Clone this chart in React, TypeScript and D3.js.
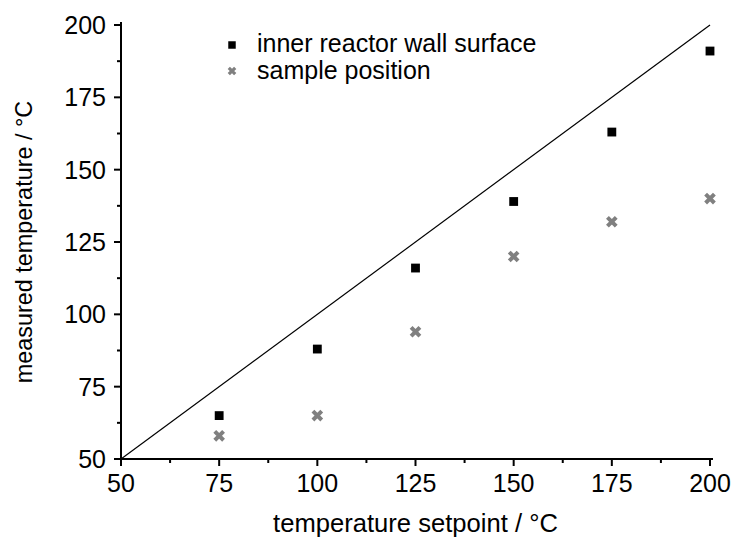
import React from "react";
import * as d3 from "d3";

const setpoints = [75, 100, 125, 150, 175, 200];
const wallTemps = [65, 88, 116, 139, 163, 191];
const sampleTemps = [58, 65, 94, 120, 132, 140];
const xTicks = [50, 75, 100, 125, 150, 175, 200];
const yTicks = [50, 75, 100, 125, 150, 175, 200];
const legendLabels = ["inner reactor wall surface", "sample position"];
const xTitle = "temperature setpoint / °C";
const yTitle = "measured temperature / °C";

const W = 733;
const H = 540;
const FONT = "'Liberation Sans', Arial, sans-serif";
const FS = 25;

const xMark = (r: number) => `M${-r},${-r}L${r},${r}M${-r},${r}L${r},${-r}`;

export default function App() {
  const x = d3.scaleLinear().domain([50, 200]).range([121, 710]);
  const y = d3.scaleLinear().domain([50, 200]).range([459, 25]);
  const xMinor = d3.range(62.5, 200, 25);
  const yMinor = d3.range(62.5, 200, 25);
  const sq = d3.symbol(d3.symbolSquare, 78)() as string;
  const sqL = d3.symbol(d3.symbolSquare, 56)() as string;
  const line = d3.line<number>().x((d) => x(d)).y((d) => y(d));
  const x0 = x(50), y0 = y(50);
  return (
    <svg width={W} height={H} style={{ position: "absolute", left: 0, top: 0, background: "#fff" }} fontFamily={FONT}>
      <rect width={W} height={H} fill="#fff" />
      <path d={line([50, 200]) as string} stroke="#000" strokeWidth={1.2} fill="none" />
      {/* axes */}
      <line x1={x0} x2={x(200) + 3} y1={y0} y2={y0} stroke="#000" strokeWidth={2} />
      <line x1={x0} x2={x0} y1={y0} y2={y(200) - 3} stroke="#000" strokeWidth={2} />
      {xTicks.map((t) => (
        <g key={"xt" + t}>
          <line x1={x(t)} x2={x(t)} y1={y0} y2={y0 + 7} stroke="#000" strokeWidth={2} />
          <text x={x(t)} y={y0 + 33} textAnchor="middle" fontSize={FS}>{t}</text>
        </g>
      ))}
      {xMinor.map((t) => (
        <line key={"xm" + t} x1={x(t)} x2={x(t)} y1={y0} y2={y0 + 4} stroke="#000" strokeWidth={2} />
      ))}
      {yTicks.map((t) => (
        <g key={"yt" + t}>
          <line x1={x0 - 7} x2={x0} y1={y(t)} y2={y(t)} stroke="#000" strokeWidth={2} />
          <text x={x0 - 15} y={y(t) + 9} textAnchor="end" fontSize={FS}>{t}</text>
        </g>
      ))}
      {yMinor.map((t) => (
        <line key={"ym" + t} x1={x0 - 4} x2={x0} y1={y(t)} y2={y(t)} stroke="#000" strokeWidth={2} />
      ))}
      {setpoints.map((s, i) => (
        <path key={"w" + s} d={sq} transform={`translate(${x(s)},${y(wallTemps[i])})`} fill="#000" />
      ))}
      {setpoints.map((s, i) => (
        <path key={"s" + s} d={xMark(4.4)} transform={`translate(${x(s)},${y(sampleTemps[i])})`} stroke="#808080" strokeWidth={4} fill="none" />
      ))}
      {/* legend */}
      <path d={sqL} transform="translate(232,45)" fill="#000" />
      <text x={257} y={52} fontSize={FS}>{legendLabels[0]}</text>
      <path d={xMark(3.2)} transform="translate(232,71)" stroke="#808080" strokeWidth={3.2} fill="none" />
      <text x={257} y={79} fontSize={FS}>{legendLabels[1]}</text>
      <text x={(x(50) + x(200)) / 2} y={532} textAnchor="middle" fontSize={25.6}>{xTitle}</text>
      <text transform={`translate(32,${(y(50) + y(200)) / 2}) rotate(-90)`} textAnchor="middle" fontSize={23.4}>{yTitle}</text>
    </svg>
  );
}
